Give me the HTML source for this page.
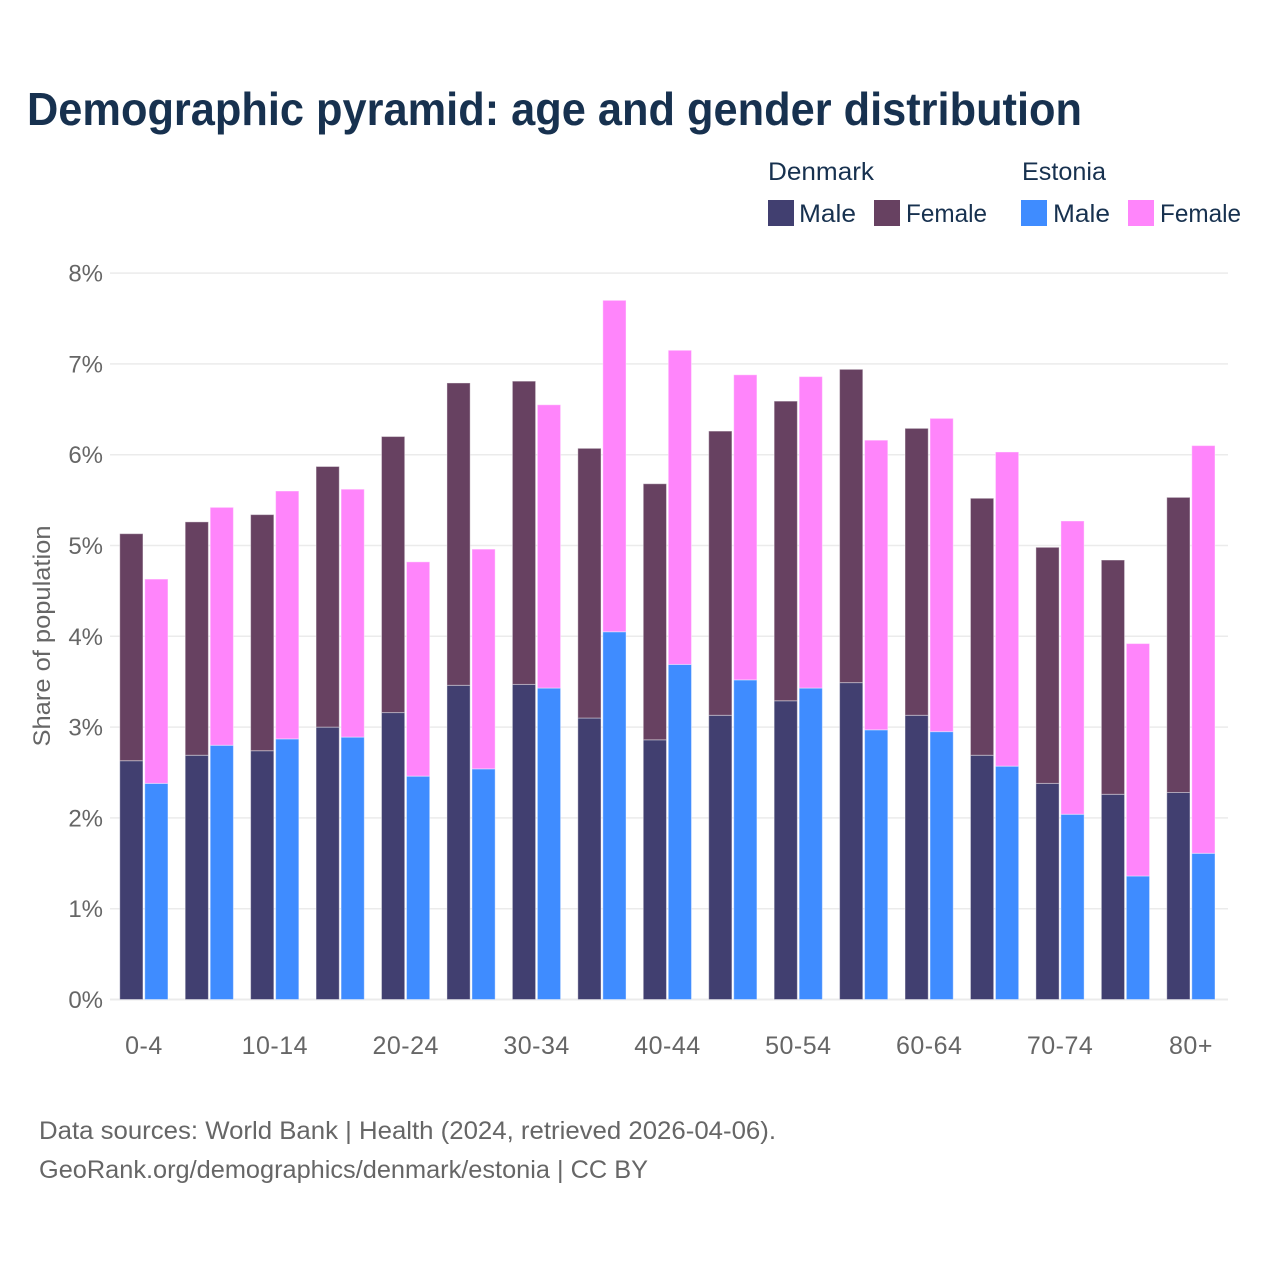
<!DOCTYPE html>
<html>
<head>
<meta charset="utf-8">
<title>Demographic pyramid</title>
<style>
html,body{margin:0;padding:0;background:#fff}
svg{display:block}
text{font-family:"Liberation Sans",sans-serif}
</style>
</head>
<body>
<svg id="chart" width="1280" height="1280" viewBox="0 0 1280 1280" xmlns="http://www.w3.org/2000/svg">
<rect width="1280" height="1280" fill="#fff"/>
<text x="27" y="125" font-size="46" font-weight="700" fill="#17314f" textLength="1055" lengthAdjust="spacingAndGlyphs">Demographic pyramid: age and gender distribution</text>
<g font-size="25" fill="#17314f">
<text x="768" y="180" textLength="106" lengthAdjust="spacingAndGlyphs">Denmark</text>
<text x="1022" y="180" textLength="84" lengthAdjust="spacingAndGlyphs">Estonia</text>
<rect x="768" y="200" width="26" height="26" fill="#413f70"/>
<text x="799" y="222" textLength="57" lengthAdjust="spacingAndGlyphs">Male</text>
<rect x="874" y="200" width="26" height="26" fill="#674161"/>
<text x="906" y="222" textLength="81" lengthAdjust="spacingAndGlyphs">Female</text>
<rect x="1021" y="200" width="26" height="26" fill="#3f8cff"/>
<text x="1053" y="222" textLength="57" lengthAdjust="spacingAndGlyphs">Male</text>
<rect x="1128" y="200" width="26" height="26" fill="#ff85fb"/>
<text x="1160" y="222" textLength="81" lengthAdjust="spacingAndGlyphs">Female</text>
</g>
<text transform="translate(50,636) rotate(-90)" text-anchor="middle" font-size="24" fill="#666" textLength="221" lengthAdjust="spacingAndGlyphs">Share of population</text>
<g id="grid"></g>
<g id="yticks"></g>
<g id="bars"></g>
<g id="xticks"></g>
<text x="39" y="1139" font-size="25" fill="#666" textLength="737" lengthAdjust="spacingAndGlyphs">Data sources: World Bank | Health (2024, retrieved 2026-04-06).</text>
<text x="39" y="1178" font-size="25" fill="#666" textLength="609" lengthAdjust="spacingAndGlyphs">GeoRank.org/demographics/denmark/estonia | CC BY</text>
</svg>
<script>
const categories = ["0-4","5-9","10-14","15-19","20-24","25-29","30-34","35-39","40-44","45-49","50-54","55-59","60-64","65-69","70-74","75-79","80+"];
const xTickLabels = ["0-4","","10-14","","20-24","","30-34","","40-44","","50-54","","60-64","","70-74","","80+"];
const yTickValues = [0,1,2,3,4,5,6,7,8];
const denmarkMale = [2.63,2.69,2.74,3.00,3.16,3.46,3.47,3.10,2.86,3.13,3.29,3.49,3.13,2.69,2.38,2.26,2.28];
const denmarkFemale = [2.50,2.57,2.60,2.87,3.04,3.33,3.34,2.97,2.82,3.13,3.30,3.45,3.16,2.83,2.60,2.58,3.25];
const estoniaMale = [2.38,2.80,2.87,2.89,2.46,2.54,3.43,4.05,3.69,3.52,3.43,2.97,2.95,2.57,2.04,1.36,1.61];
const estoniaFemale = [2.25,2.62,2.73,2.73,2.36,2.42,3.12,3.65,3.46,3.36,3.43,3.19,3.45,3.46,3.23,2.56,4.49];

const NS = "http://www.w3.org/2000/svg";
const yZero = 999.5, yPerUnit = 90.8;
const xStart = 119.75, xStep = 65.44, barW = 23.2, barGap = 25.0;
const yScale = v => yZero - v * yPerUnit;
const xScale = i => xStart + i * xStep;

function mk(tag, attrs, parent) {
  const el = document.createElementNS(NS, tag);
  for (const k in attrs) el.setAttribute(k, attrs[k]);
  parent.appendChild(el);
  return el;
}

const gridG = document.getElementById("grid");
const yG = document.getElementById("yticks");
yTickValues.forEach(v => {
  const line = mk("line", {x1:110, x2:1228, y1:yScale(v), y2:yScale(v), stroke:"#ebebeb", "stroke-width":v===0?2:1.5}, gridG);
  
  
  const t = mk("text", {x:103, y:yScale(v)+8.5, "text-anchor":"end", "font-size":24, fill:"#666"}, yG);
  
  
  t.textContent = v + "%";
});

const barsG = document.getElementById("bars");
function drawBar(x, base, val, fill) {
  const r = mk("rect", {x:x, y:yScale(base+val), width:barW, height:yScale(base)-yScale(base+val), fill:fill, stroke:"#fff", "stroke-opacity":0.4, "stroke-width":1}, barsG);
  
  
}
categories.forEach((c,i) => {
  const x = xScale(i);
  drawBar(x, 0, denmarkMale[i], "#413f70");
  drawBar(x, denmarkMale[i], denmarkFemale[i], "#674161");
  drawBar(x+barGap, 0, estoniaMale[i], "#3f8cff");
  drawBar(x+barGap, estoniaMale[i], estoniaFemale[i], "#ff85fb");
});

const xG = document.getElementById("xticks");
xTickLabels.forEach((l,i) => {
  if (!l) return;
  const t = mk("text", {x:xScale(i)+24.2, y:1054, "text-anchor":"middle", "font-size":25, "letter-spacing":0.5, fill:"#666"}, xG);
  
  
  t.textContent = l;
});
</script>
</body>
</html>
